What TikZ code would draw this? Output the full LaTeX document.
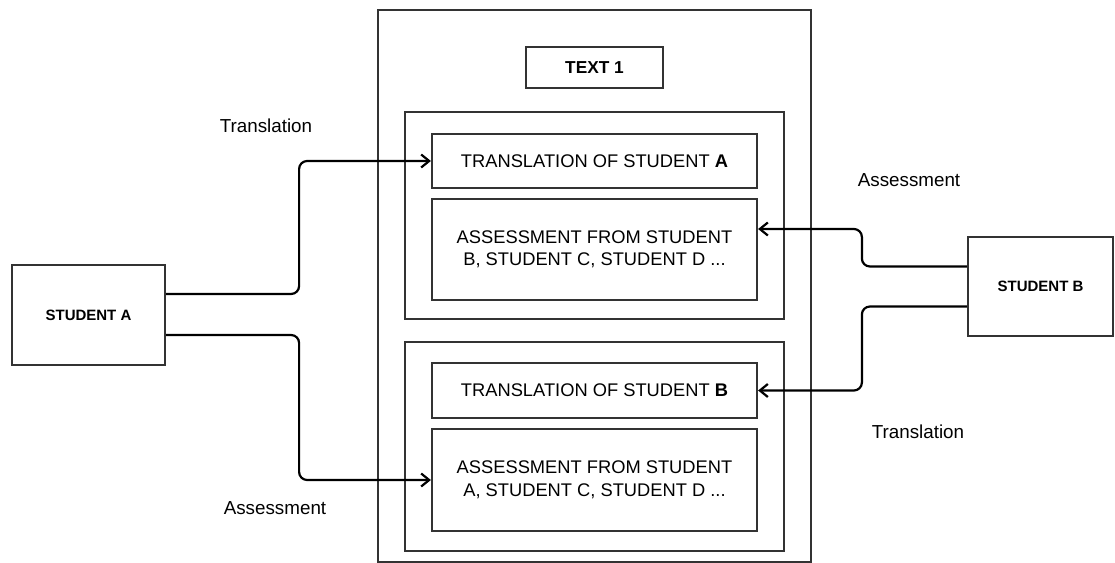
\documentclass[tikz,border=0pt]{standalone}
\usepackage{fontspec}
\setmainfont{Liberation Sans}
\usetikzlibrary{arrows.meta}
\definecolor{boxline}{HTML}{333333}
\begin{document}
\begin{tikzpicture}[x=1bp,y=-1bp,
  box/.style={draw=boxline,line width=2.2bp,rectangle,inner sep=0pt,align=center,
    font=\fontsize{18.3bp}{22.5bp}\selectfont},
  person/.style={box,font=\fontsize{15bp}{17bp}\selectfont\bfseries},
  conn/.style={draw=black,line width=2.2bp,rounded corners=8bp,
    -{Straight Barb[length=8bp,width=13bp,line width=2.2bp]}},
  lbl/.style={font=\fontsize{18.8bp}{22bp}\selectfont,inner sep=0pt}]
\useasboundingbox (0,0) rectangle (1115,563);

% students
\node[person,minimum width=153bp,minimum height=100bp] (sa) at (88.5,315) {STUDENT A};
\node[person,minimum width=145bp,minimum height=99bp] (sb) at (1040.5,286.5) {STUDENT B};

% central document with its two groups
\node[box,minimum width=433bp,minimum height=552bp] (doc) at (594.5,286) {};
\node[box,font=\fontsize{17.3bp}{20bp}\selectfont\bfseries,minimum width=137bp,minimum height=41bp] (t1) at (594.5,67.5) {TEXT 1};

\node[box,minimum width=379bp,minimum height=207bp] (gup) at (594.5,215.5) {};
\node[box,minimum width=325bp,minimum height=54bp] (ta) at (594.5,161) {TRANSLATION OF STUDENT \textbf{A}};
\node[box,minimum width=325bp,minimum height=101bp] (asa) at (594.5,249.5) {ASSESSMENT FROM STUDENT\\B, STUDENT C, STUDENT D ...};

\node[box,minimum width=379bp,minimum height=209bp] (glow) at (594.5,446.5) {};
\node[box,minimum width=325bp,minimum height=55bp] (tb) at (594.5,390.5) {TRANSLATION OF STUDENT \textbf{B}};
\node[box,minimum width=325bp,minimum height=102bp] (asb) at (594.5,480) {ASSESSMENT FROM STUDENT\\A, STUDENT C, STUDENT D ...};

% connectors
\draw[conn] ([yshift=21bp]sa.east) -- ++(133,0) |- (ta.west);
\draw[conn] ([yshift=-20bp]sa.east) -- ++(133,0) |- (asb.west);
\draw[conn] ([yshift=20bp]sb.west) -- ++(-105,0) |- ([yshift=20.5bp]asa.east);
\draw[conn] ([yshift=-20bp]sb.west) -- ++(-105,0) |- (tb.east);

% connector labels
\node[lbl] (l1) at (266,126) {Translation};
\node[lbl] (l2) at (909,180) {Assessment};
\node[lbl] (l3) at (918,432) {Translation};
\node[lbl] (l4) at (275,508) {Assessment};
\end{tikzpicture}
\end{document}
